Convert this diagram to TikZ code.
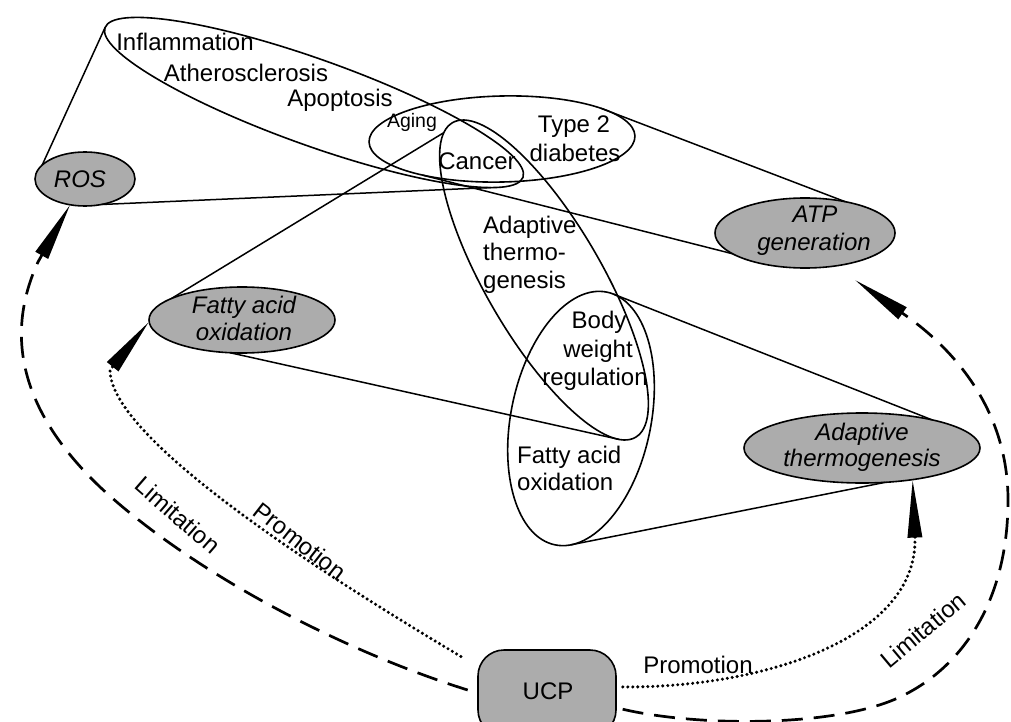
\documentclass[tikz,border=0pt]{standalone}
\usepackage{fontspec}
\setmainfont{Liberation Sans}
\usetikzlibrary{shapes.geometric,arrows.meta}
\definecolor{grayfill}{RGB}{172,172,172}
\begin{document}
\begin{tikzpicture}[x=1pt,y=-1pt,
  wl/.style={draw,ellipse,line width=1.6pt,inner sep=0pt,outer sep=0pt},
  gl/.style={draw,ellipse,fill=grayfill,line width=1.6pt,inner sep=0pt,outer sep=0pt},
  cone/.style={line width=1.5pt},
  lbl/.style={font=\fontsize{24}{28}\selectfont,inner sep=0pt,anchor=base},
  ilbl/.style={font=\fontsize{24}{28}\selectfont\itshape,inner sep=0pt,anchor=base},
  wedge/.style={-{Triangle[length=58pt,width=14pt]}},
  limit/.style={wedge,line width=2.7pt,dash pattern=on 21pt off 11pt},
  promo/.style={wedge,line width=3.4pt,line cap=round,dash pattern=on 0pt off 5pt},
]
\useasboundingbox (0,0) rectangle (1011,722);

% white (consequence) ellipses
\node[wl,minimum width=444pt,minimum height=86pt,rotate=-19.7] (e1) at (314,102.5) {};
\node[wl,minimum width=266pt,minimum height=86pt,rotate=1.3] (e2) at (502,139) {};
\node[wl,minimum width=364pt,minimum height=116pt,rotate=-59.8] (e3) at (544,280) {};
\node[wl,minimum width=258pt,minimum height=140pt,rotate=78.4] (e4) at (581,418.5) {};

% gray (function) ellipses
\node[gl,minimum width=100pt,minimum height=54pt] (ros) at (85,179) {};
\node[gl,minimum width=180pt,minimum height=70pt] (atp) at (805,233) {};
\node[gl,minimum width=186pt,minimum height=66pt] (fao) at (242,320) {};
\node[gl,minimum width=236pt,minimum height=70pt] (at) at (862,448) {};

% cone lines
\draw[cone] (ros.162) -- (e1.180);
\draw[cone] (ros.-57) -- (e1.-6);
\draw[cone] (atp.38) -- (e2.16);
\draw[cone] (atp.196) -- (e2.203);
\draw[cone] (fao.163) -- (e3.184);
\draw[cone] (fao.250) -- (e3.-5);
\draw[cone] (at.22) -- (e4.-3);
\draw[cone] (at.-56) -- (e4.187);

% UCP
\node[draw,fill=grayfill,line width=1.6pt,rounded corners=26pt,minimum width=138pt,minimum height=86pt,inner sep=0pt] (ucp) at (547,693) {};
\node[lbl] (ucpt) at (548,699) {UCP};

\coordinate (atptip) at (855,280);

% arrows
\draw[limit,shorten <=10pt] (ucp.west) .. controls (334,648) and (187.6,568.6) .. (100,487)
   .. controls (30,420) and (0,345) .. (38,262) -- (ros.240);
\draw[promo,shorten <=19pt] (ucp.159) .. controls (331,579) and (110,440) .. (110,370) -- (fao.181);
\draw[limit,shorten <=6pt] (ucp.-12) .. controls (699.6,727.2) and (836.7,727) .. (900,697)
   .. controls (963.3,667) and (1008,600) .. (1008,500)
   .. controls (1008,410) and (954,349.4) .. (905,315) -- (atptip);
\draw[promo,shorten <=6pt] (ucp.5) .. controls (760,688) and (915,640) .. (915,540) -- (at.-32);

% arrow labels
\node[lbl,rotate=-41,anchor=center] (lim1) at (178,515) {Limitation};
\node[lbl,rotate=-38,anchor=center] (pro1) at (300,541) {Promotion};
\node[lbl] (pro2) at (698,673) {Promotion};
\node[lbl,rotate=40,anchor=center] (lim2) at (923,630) {Limitation};

% texts in white ellipses
\node[lbl] (t1) at (185,51) {Inflammation};
\node[lbl] (t2) at (246,82) {Atherosclerosis};
\node[lbl] (t3) at (340,107) {Apoptosis};
\node[lbl,font=\fontsize{19.5}{22}\selectfont] (t4) at (412,128) {Aging};
\node[lbl] (t5) at (574,133) {Type 2};
\node[lbl] (t6) at (575,162) {diabetes};
\node[lbl] (t7) at (477,170) {Cancer};
\node[lbl,anchor=base west] (t8) at (483,233) {Adaptive};
\node[lbl,anchor=base west] (t9) at (483,260) {thermo-};
\node[lbl,anchor=base west] (t10) at (483,288) {genesis};
\node[lbl] (t11) at (599,328) {Body};
\node[lbl] (t12) at (598,357) {weight};
\node[lbl] (t13) at (595,385) {regulation};
\node[lbl,anchor=base west] (t14) at (517,463) {Fatty acid};
\node[lbl,anchor=base west] (t15) at (517,490) {oxidation};

% texts in gray ellipses
\node[ilbl] (g1) at (80,187) {ROS};
\node[ilbl] (g2) at (815,222) {ATP};
\node[ilbl] (g3) at (814,250) {generation};
\node[ilbl] (g4) at (244,313) {Fatty acid};
\node[ilbl] (g5) at (244,340) {oxidation};
\node[ilbl] (g6) at (862,440) {Adaptive};
\node[ilbl] (g7) at (862,466) {thermogenesis};
\end{tikzpicture}
\end{document}
